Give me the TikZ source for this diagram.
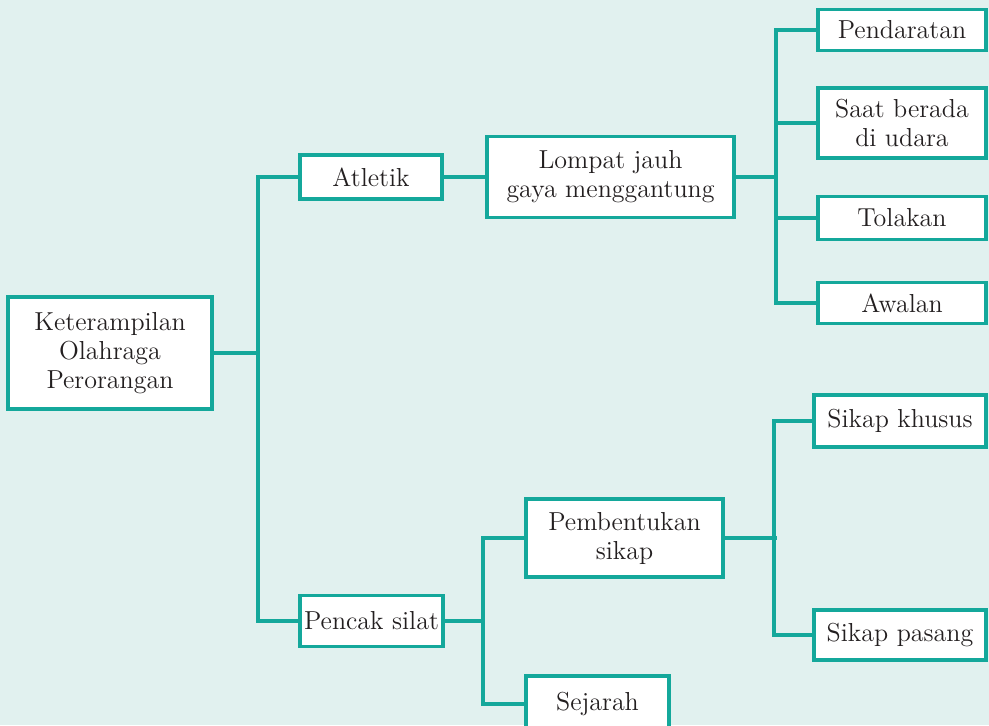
\documentclass[tikz,border=0pt]{standalone}
\usepackage{tikz}
\usetikzlibrary{positioning, calc}
\usepackage{xcolor}
\definecolor{mpbg}{HTML}{E1F1EF}
\definecolor{mpteal}{HTML}{14A89B}
\definecolor{mptext}{HTML}{231F20}
\definecolor{mpwhite}{HTML}{FFFFFF}

\begin{document}
\begin{tikzpicture}[x=0.5pt, y=-0.5pt,
    box/.style={draw=mpteal, fill=mpwhite, line width=1.6pt, align=center,
      text=mptext, font=\fontsize{13}{14.5}\selectfont, inner sep=0pt},
    link/.style={draw=mpteal, line width=1.6pt}]
    \useasboundingbox (0,0) rectangle (989,725);
    \fill[mpbg] (0,0) rectangle (989,725);
    \clip (0,0) rectangle (989,725);

    % nodes
    \node[box, minimum width=102pt, minimum height=56pt] (root) at (110,353)
      {Keterampilan\\ Olahraga\\ Perorangan};
    \node[box, minimum width=71pt, minimum height=22pt] (atletik) at (371,177) {Atletik};
    \node[box, minimum width=71.5pt, minimum height=25.5pt] (pencak) at (371.5,621) {Pencak silat};
    \node[box, minimum width=123.5pt, minimum height=40.5pt] (lompat) at (610.5,177)
      {Lompat jauh\\ gaya menggantung};
    \node[box, minimum width=84pt, minimum height=20.5pt] (pendaratan) at (902,30) {Pendaratan};
    \node[box, minimum width=84pt, minimum height=35pt] (saat) at (902,123) {Saat berada\\ di udara};
    \node[box, minimum width=84pt, minimum height=21.5pt] (tolakan) at (902,218) {Tolakan};
    \node[box, minimum width=84pt, minimum height=20.5pt] (awalan) at (902,303) {Awalan};
    \node[box, minimum width=98.5pt, minimum height=39pt] (pembentukan) at (624.5,538)
      {Pembentukan\\ sikap};
    \node[box, minimum width=71.5pt, minimum height=28pt] (sejarah) at (597.5,704) {Sejarah};
    \node[box, minimum width=86pt, minimum height=26pt] (khusus) at (900,421) {Sikap khusus};
    \node[box, minimum width=86pt, minimum height=25pt] (pasang) at (900,635) {Sikap pasang};

    % junctions
    \coordinate (j1) at (258,353);
    \coordinate (j2) at (776,177);
    \coordinate (j3) at (483,621);
    \coordinate (j4) at (774,538);

    % connectors
    \draw[link] (root) -- (j1);
    \draw[link] (atletik) -| (j1) |- (pencak);
    \draw[link] (atletik) -- (lompat);
    \draw[link] (lompat) -- (j2);
    \draw[link] (pendaratan) -| (j2) |- (awalan);
    \draw[link] (saat) -- (saat -| j2);
    \draw[link] (tolakan) -- (tolakan -| j2);
    \draw[link] (pencak) -- (j3);
    \draw[link] (pembentukan) -| (j3) |- (sejarah);
    \draw[link] (pembentukan) -- ([xshift=1.5pt]j4);
    \draw[link] (khusus) -| (j4) |- (pasang);
  \end{tikzpicture}
\end{document}
